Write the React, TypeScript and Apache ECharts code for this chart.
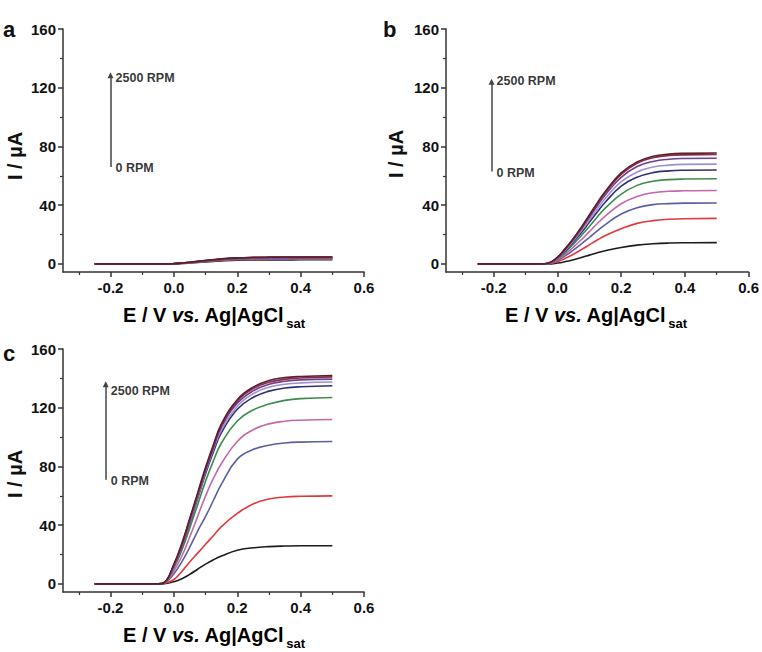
import React, { useEffect, useRef } from 'react';
import * as echarts from 'echarts';

// Potential (V vs. Ag|AgCl sat) sample points shared by all curves
const E = [-0.25, -0.1, -0.05, -0.03, 0, 0.025, 0.05, 0.075, 0.1, 0.125, 0.15, 0.2, 0.25, 0.3, 0.35, 0.4, 0.5];

const xLabels = [-0.2, 0, 0.2, 0.4, 0.6];
const xMinor = [-0.3, -0.1, 0.1, 0.3, 0.5];
const yLabels = [0, 40, 80, 120, 160];
const yMinor = [20, 60, 100, 140];

const colors = ['#1c1c1c', '#e2383c', '#5b5f9f', '#c468a8', '#3e8b4e', '#2e3070', '#9c90d2', '#6c3f90', '#8c2b4b', '#5c1e2a'];

// Panel a (currents in µA), 0 RPM ... 2500 RPM
const a0 = [0, 0, 0, 0, 0.11, 0.34, 0.67, 1.04, 1.4, 1.74, 2.04, 2.46, 2.66, 2.74, 2.77, 2.8, 2.8];
const a1 = [0, 0, 0, 0, 0.13, 0.38, 0.77, 1.18, 1.6, 1.98, 2.34, 2.82, 3.04, 3.14, 3.17, 3.2, 3.2];
const a2 = [0, 0, 0, 0, 0.14, 0.42, 0.84, 1.3, 1.75, 2.17, 2.56, 3.08, 3.33, 3.43, 3.47, 3.5, 3.5];
const a3 = [0, 0, 0, 0, 0.15, 0.46, 0.91, 1.41, 1.9, 2.36, 2.77, 3.34, 3.61, 3.72, 3.76, 3.8, 3.8];
const a4 = [0, 0, 0, 0, 0.16, 0.48, 0.96, 1.48, 2, 2.48, 2.92, 3.52, 3.8, 3.92, 3.96, 4, 4];
const a5 = [0, 0, 0, 0, 0.17, 0.5, 1.01, 1.55, 2.1, 2.6, 3.07, 3.7, 3.99, 4.12, 4.16, 4.2, 4.2];
const a6 = [0, 0, 0, 0, 0.17, 0.52, 1.04, 1.61, 2.18, 2.7, 3.18, 3.83, 4.13, 4.26, 4.31, 4.35, 4.35];
const a7 = [0, 0, 0, 0, 0.18, 0.54, 1.08, 1.67, 2.25, 2.79, 3.29, 3.96, 4.28, 4.41, 4.46, 4.5, 4.5];
const a8 = [0, 0, 0, 0, 0.18, 0.55, 1.1, 1.7, 2.3, 2.85, 3.36, 4.05, 4.37, 4.51, 4.55, 4.6, 4.6];
const a9 = [0, 0, 0, 0, 0.19, 0.56, 1.13, 1.74, 2.35, 2.91, 3.43, 4.14, 4.47, 4.61, 4.65, 4.7, 4.7];

// Panel b
const b0 = [0, 0, 0, 0, 0.6, 1.6, 2.9, 4.4, 6, 7.6, 9, 11.2, 12.8, 13.7, 14.2, 14.4, 14.5];
const b1 = [0, 0, 0, 0.1, 1.5, 3.8, 6.6, 9.7, 13, 16.3, 19.3, 24, 27.6, 29.5, 30.4, 30.8, 31];
const b2 = [0, 0, 0, 0.2, 2.3, 5.6, 9.4, 13.6, 18, 22.5, 26.8, 34, 38.3, 40.4, 41.1, 41.4, 41.5];
const b3 = [0, 0, 0, 0.2, 2.8, 6.8, 11.4, 16.5, 22, 27.5, 32.5, 41, 46, 48.5, 49.5, 49.8, 50];
const b4 = [0, 0, 0, 0.3, 3.4, 8.2, 13.5, 19.3, 25.5, 32, 38, 47.5, 53.5, 56.3, 57.4, 57.8, 58];
const b5 = [0, 0, 0, 0.3, 3.8, 9, 15, 21.3, 28.3, 35.3, 42, 53, 59, 62.2, 63.4, 63.8, 64];
const b6 = [0, 0, 0, 0.3, 4, 9.5, 15.8, 22.5, 30, 37.5, 44.5, 56, 62.6, 66, 67.3, 67.8, 68];
const b7 = [0, 0, 0, 0.4, 4.3, 10, 16.6, 23.8, 31.7, 39.6, 47, 59, 66.3, 69.8, 71.3, 71.8, 72];
const b8 = [0, 0, 0, 0.4, 4.5, 10.4, 17.2, 24.6, 32.8, 41, 48.6, 61, 68.6, 72.3, 73.8, 74.3, 74.5];
const b9 = [0, 0, 0, 0.4, 4.6, 10.6, 17.4, 25, 33.3, 41.6, 49.3, 62, 69.5, 73.3, 74.8, 75.3, 75.5];

// Panel c
const c0 = [0, 0, 0, 0.2, 1.5, 3.5, 6.5, 10, 13.5, 16.5, 19, 23, 24.6, 25.4, 25.8, 26, 26];
const c1 = [0, 0, 0, 0.4, 3, 8.5, 15, 21, 27, 33, 39, 48, 54.5, 57.8, 59.2, 59.7, 60];
const c2 = [0, 0, 0, 0.6, 7, 15, 25, 36, 46, 57, 68, 85, 91.5, 94.5, 96, 96.6, 97];
const c3 = [0, 0, 0, 0.7, 9, 19, 32, 46, 60, 72, 82, 97, 105, 109, 110.8, 111.5, 112];
const c4 = [0, 0, 0, 0.8, 11, 23, 38, 54, 70, 84, 96, 111, 118.5, 122.5, 125, 126.2, 127];
const c5 = [0, 0, 0, 0.9, 12, 25, 41, 58, 75, 90, 103, 119, 127, 131.3, 133.4, 134.3, 135];
const c6 = [0, 0, 0, 0.9, 12, 25.5, 42, 59, 76.5, 92, 105, 121, 129.5, 134, 136, 136.9, 137.5];
const c7 = [0, 0, 0, 1, 12.5, 26, 43, 60, 77.5, 93, 107, 123, 131.5, 136, 138, 139, 139.5];
const c8 = [0, 0, 0, 1, 13, 27, 44, 61, 78.5, 94, 108, 124.5, 133, 137.3, 139.3, 140.3, 141];
const c9 = [0, 0, 0, 1, 13.5, 27.5, 44.5, 62, 79.5, 95, 109, 125.5, 134, 138.5, 140.5, 141.3, 142];

const panelA = [a0, a1, a2, a3, a4, a5, a6, a7, a8, a9];
const panelB = [b0, b1, b2, b3, b4, b5, b6, b7, b8, b9];
const panelC = [c0, c1, c2, c3, c4, c5, c6, c7, c8, c9];

// rotation-rate arrow annotation per panel: [x, bottom, top, topText, bottomText]
const arrowA = [-0.2, 66, 128.5, 126.5, 65.6];
const arrowB = [-0.207, 63, 124, 124.4, 62];
const arrowC = [-0.215, 71, 136, 131.3, 70.4];

const FONT = '"Liberation Sans", Arial, Helvetica, sans-serif';
const AXIS_COLOR = '#333';
const TEXT_COLOR = '#111';

export default function App() {
  const ref = useRef<HTMLDivElement>(null);

  useEffect(() => {
    if (!ref.current) return;
    const chart = echarts.init(ref.current, undefined, { renderer: 'svg' });

    const grids = [
      { left: 63, top: 29, width: 301, height: 243 },
      { left: 446, top: 29, width: 303, height: 243 },
      { left: 63, top: 349, width: 301, height: 243 },
    ];
    const panels = [panelA, panelB, panelC];
    const arrows = [arrowA, arrowB, arrowC];

    const xAxis: any[] = [];
    const yAxis: any[] = [];
    const series: any[] = [];

    grids.forEach((_, g) => {
      xAxis.push({
        type: 'value', gridIndex: g, min: -0.35, max: 0.6, position: 'bottom',
        axisLine: { show: true, onZero: false, lineStyle: { color: AXIS_COLOR, width: 1.5 } },
        axisTick: { show: true, length: 5, customValues: xLabels, lineStyle: { color: AXIS_COLOR, width: 1.5 } },
        axisLabel: {
          customValues: xLabels, formatter: (v: number) => v.toFixed(1),
          fontSize: 15, fontWeight: 'bold', color: TEXT_COLOR, fontFamily: FONT, margin: 8,
        },
        splitLine: { show: false },
      });
      xAxis.push({
        type: 'value', gridIndex: g, min: -0.35, max: 0.6, position: 'bottom',
        axisLine: { show: false, onZero: false },
        axisTick: { show: true, length: 3, customValues: xMinor, lineStyle: { color: AXIS_COLOR, width: 1.2 } },
        axisLabel: { show: false, customValues: xMinor },
        splitLine: { show: false },
      });
      yAxis.push({
        type: 'value', gridIndex: g, min: -5.5, max: 160, position: 'left',
        axisLine: { show: true, onZero: false, lineStyle: { color: AXIS_COLOR, width: 1.5 } },
        axisTick: { show: true, length: 5, customValues: yLabels, lineStyle: { color: AXIS_COLOR, width: 1.5 } },
        axisLabel: {
          customValues: yLabels, fontSize: 15, fontWeight: 'bold', color: TEXT_COLOR, fontFamily: FONT, margin: 7,
        },
        splitLine: { show: false },
      });
      yAxis.push({
        type: 'value', gridIndex: g, min: -5.5, max: 160, position: 'left',
        axisLine: { show: false, onZero: false },
        axisTick: { show: true, length: 3, customValues: yMinor, lineStyle: { color: AXIS_COLOR, width: 1.2 } },
        axisLabel: { show: false, customValues: yMinor },
        splitLine: { show: false },
      });

      panels[g].forEach((vals, k) => {
        series.push({
          type: 'line', xAxisIndex: 2 * g, yAxisIndex: 2 * g,
          data: E.map((x, i) => [x, vals[i]]),
          smooth: 0.45, symbol: 'none',
          lineStyle: { color: colors[k], width: 1.6 },
          silent: true,
        });
      });

      const [xa, y0, y1, tTop, tBot] = arrows[g];
      series.push({
        type: 'line', xAxisIndex: 2 * g, yAxisIndex: 2 * g,
        data: [[xa, y0], [xa, y1]], symbol: 'none',
        lineStyle: { opacity: 0, width: 0 }, silent: true,
        markLine: {
          silent: true, symbol: ['none', 'triangle'], symbolSize: 6,
          lineStyle: { color: '#444', width: 1.5, type: 'solid' },
          label: { show: false },
          data: [[{ coord: [xa, y0] }, { coord: [xa, y1] }]],
        },
      });
      series.push({
        type: 'scatter', xAxisIndex: 2 * g, yAxisIndex: 2 * g,
        symbolSize: 0, silent: true,
        data: [
          { name: '2500 RPM', value: [xa, tTop] },
          { name: '0 RPM', value: [xa, tBot] },
        ],
        label: {
          show: true, position: 'right', distance: 5, formatter: '{b}',
          fontSize: 12.5, fontWeight: 'bold', color: '#000', fontFamily: FONT,
        },
      });
    });

    const titleRich = {
      m: { fontSize: 20, fontWeight: 'bold', fontFamily: FONT, color: TEXT_COLOR, lineHeight: 24, verticalAlign: 'top' },
      i: { fontSize: 20, fontWeight: 'bold', fontStyle: 'italic', fontFamily: FONT, color: TEXT_COLOR, lineHeight: 24, verticalAlign: 'top' },
      s: { fontSize: 13, fontWeight: 'bold', fontFamily: FONT, color: TEXT_COLOR, lineHeight: 13, padding: [12, 0, 0, 2], verticalAlign: 'top' },
    };
    const xTitle = (x: number, y: number) => ({
      type: 'text', x, y, silent: true,
      style: {
        text: '{m|E / V }{i|vs.}{m| Ag|AgCl}{s|sat}',
        rich: titleRich, align: 'left', verticalAlign: 'top',
      },
    });
    const yTitle = (x: number, y: number) => ({
      type: 'text', x, y, rotation: Math.PI / 2, silent: true,
      style: {
        text: 'I / µA', fontSize: 20, fontWeight: 'bold', fontFamily: FONT, fill: TEXT_COLOR,
        align: 'center', verticalAlign: 'middle',
      },
    });
    const letter = (t: string, x: number, y: number) => ({
      type: 'text', x, y, silent: true,
      style: { text: t, fontSize: 22, fontWeight: 'bold', fontFamily: FONT, fill: TEXT_COLOR, align: 'left', verticalAlign: 'alphabetic' },
    });

    chart.setOption({
      animation: false,
      backgroundColor: '#ffffff',
      grid: grids,
      xAxis, yAxis, series,
      graphic: [
        letter('a', 3, 18), letter('b', 383, 18), letter('c', 3, 342),
        yTitle(15, 156), yTitle(396, 154), yTitle(15, 474),
        xTitle(123, 305), xTitle(505, 305), xTitle(123, 625),
      ],
    });

    return () => chart.dispose();
  }, []);

  return <div ref={ref} style={{ position: 'fixed', left: 0, top: 0, width: 762, height: 652 }} />;
}
